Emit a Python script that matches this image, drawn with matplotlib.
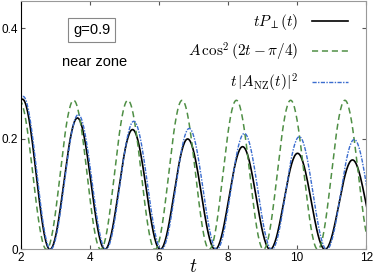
import numpy as np
import matplotlib
matplotlib.use("Agg")
import matplotlib.pyplot as plt

plt.rcParams['mathtext.fontset'] = 'cm'
plt.rcParams['font.family'] = ['Liberation Sans', 'DejaVu Sans']

# values: zero crossings of each curve and the height of
# each lobe between two consecutive zeros
black_zeros = [1.26, 2.85, 4.44, 6.04, 7.63, 9.22, 10.81, 12.40]
black_peaks = [0.272, 0.238, 0.217, 0.200, 0.186, 0.174, 0.162]

green_zeros = [1.18, 2.75, 4.32, 5.89, 7.46, 9.03, 10.60, 12.17]
green_peaks = [0.27, 0.27, 0.27, 0.27, 0.27, 0.27, 0.27]

blue_zeros = [1.28, 2.87, 4.47, 6.08, 7.68, 9.27, 10.86, 12.45]
blue_peaks = [0.277, 0.244, 0.232, 0.219, 0.210, 0.204, 0.199]

labels = [r'$tP_{\perp}(t)$', r'$A\,\cos^2(2t-\pi/4)$', r'$t\,|A_{\mathrm{NZ}}(t)|^2$']


def lobes(zeros, peaks):
    # one sin^2 arch per lobe between two zeros
    ts, ys = [], []
    for k in range(len(peaks)):
        t = np.linspace(zeros[k], zeros[k + 1], 80)
        ts.append(t)
        ys.append(peaks[k] * np.sin(np.pi * (t - zeros[k]) / (zeros[k + 1] - zeros[k])) ** 2)
    return np.concatenate(ts), np.concatenate(ys)


fig = plt.figure(figsize=(3.74, 2.79), dpi=100)
ax = fig.add_axes([0.055, 0.106, 0.924, 0.891])

t, y = lobes(black_zeros, black_peaks)
ax.plot(t, y, color='black', lw=1.2, label=labels[0])
t, y = lobes(green_zeros, green_peaks)
ax.plot(t, y, color='#4f8f45', lw=1.1, ls=(0, (4, 2.5)), label=labels[1])
t, y = lobes(blue_zeros, blue_peaks)
ax.plot(t, y, color='#3a6ccf', lw=1.0, ls=(0, (3, 1, 1, 1)), label=labels[2])

ax.set_xlim(2, 12)
ax.set_ylim(0, 0.45)
ax.set_xticks([2, 4, 6, 8, 10, 12])
ax.set_yticks([0, 0.2, 0.4])
ax.set_yticklabels(['0', '0.2', '0.4'])
ax.tick_params(direction='in', top=True, right=True, labelsize=8.5, length=3,
               color='#555555', pad=2)

for s in ['top', 'right', 'bottom']:
    ax.spines[s].set_color('#999999')
ax.spines['left'].set_color('black')

ax.set_xlabel(r'$t$', fontsize=14, labelpad=-4)

ax.legend(loc='upper right', frameon=False, markerfirst=False, fontsize=11,
          handlelength=2.4, handletextpad=0.9, labelspacing=0.55,
          borderaxespad=0.2, bbox_to_anchor=(0.975, 0.99))

ax.text(0.206, 0.883, 'g=0.9', transform=ax.transAxes, fontsize=10.5,
        ha='center', va='center',
        bbox=dict(boxstyle='square,pad=0.35', fc='white', ec='#888888', lw=0.8))
ax.text(0.213, 0.752, 'near zone', transform=ax.transAxes, fontsize=10.5,
        ha='center', va='center')

fig.savefig('out.png', dpi=100)
